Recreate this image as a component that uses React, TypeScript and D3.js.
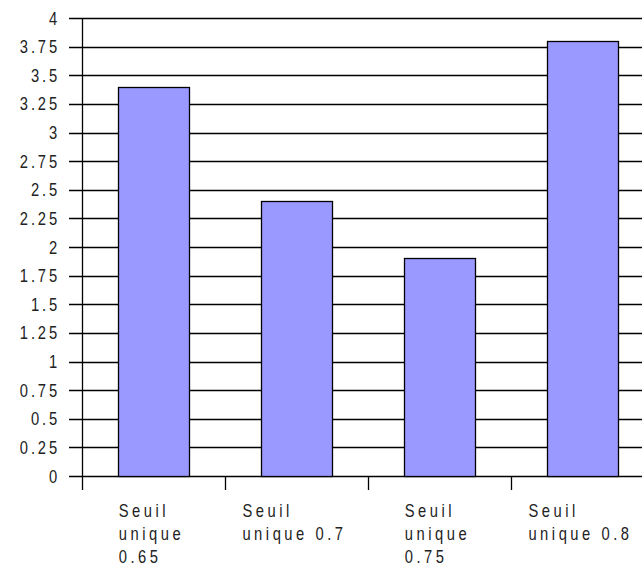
import React, { useEffect, useRef } from "react";
import * as d3 from "d3";

const WIDTH = 642;
const HEIGHT = 566;
const MARGIN = { top: 18, left: 82, bottom: 90 };
const STEP = 143;

const categories = ["Seuil unique 0.65", "Seuil unique 0.7", "Seuil unique 0.75", "Seuil unique 0.8"];
const categoryLines = [
  ["Seuil", "unique", "0.65"],
  ["Seuil", "unique 0.7"],
  ["Seuil", "unique", "0.75"],
  ["Seuil", "unique 0.8"],
];
const values = [3.4, 2.4, 1.9, 3.8];
const yTicks = [0, 0.25, 0.5, 0.75, 1, 1.25, 1.5, 1.75, 2, 2.25, 2.5, 2.75, 3, 3.25, 3.5, 3.75, 4];

const FONT = "'Liberation Sans', Arial, sans-serif";
const SX = 0.82; // the original font is narrow and tall

export default function App() {
  const ref = useRef<SVGSVGElement>(null);

  useEffect(() => {
    const svg = d3.select(ref.current);
    svg.selectAll("*").remove();

    const y0 = HEIGHT - MARGIN.bottom;
    const x = d3
      .scaleBand()
      .domain(categories)
      .range([MARGIN.left, MARGIN.left + STEP * categories.length])
      .paddingInner(0.5)
      .paddingOuter(0.25);
    const y = d3.scaleLinear().domain([0, 4]).range([y0, MARGIN.top]);

    // horizontal gridlines with the left tick stub
    svg
      .append("g")
      .selectAll("line")
      .data(yTicks)
      .join("line")
      .attr("x1", MARGIN.left - 13)
      .attr("x2", WIDTH)
      .attr("y1", (d) => Math.round(y(d)) + 0.5)
      .attr("y2", (d) => Math.round(y(d)) + 0.5)
      .attr("stroke", "#000")
      .attr("stroke-width", 1.3);

    svg
      .append("g")
      .selectAll("text")
      .data(yTicks)
      .join("text")
      .attr("transform", (d) => `translate(60,${y(d) + 6.5}) scale(${SX},1)`)
      .attr("text-anchor", "end")
      .attr("font-family", FONT)
      .attr("font-size", 18)
      .attr("letter-spacing", 3.5)
      .attr("fill", "#222")
      .text((d) => String(d));

    // bars
    svg
      .append("g")
      .selectAll("rect")
      .data(values)
      .join("rect")
      .attr("x", (d, i) => Math.round(x(categories[i]) as number) + 0.5)
      .attr("width", Math.round(x.bandwidth()) - 1)
      .attr("y", (d) => Math.round(y(d)) + 0.5)
      .attr("height", (d) => Math.round(y0) - Math.round(y(d)))
      .attr("fill", "#9999ff")
      .attr("stroke", "#000")
      .attr("stroke-width", 1.3);

    // axes lines
    svg
      .append("line")
      .attr("x1", MARGIN.left + 0.5)
      .attr("x2", MARGIN.left + 0.5)
      .attr("y1", MARGIN.top)
      .attr("y2", y0 + 14)
      .attr("stroke", "#000")
      .attr("stroke-width", 1.3);

    const bounds = d3.range(1, categories.length).map((i) => MARGIN.left + i * STEP);
    svg
      .append("g")
      .selectAll("line")
      .data(bounds)
      .join("line")
      .attr("x1", (d) => d + 0.5)
      .attr("x2", (d) => d + 0.5)
      .attr("y1", y0)
      .attr("y2", y0 + 14)
      .attr("stroke", "#000")
      .attr("stroke-width", 1.3);

    // category labels, left aligned block centred in band
    categoryLines.forEach((lines, i) => {
      const cx = (x(categories[i]) as number) + x.bandwidth() / 2;
      const g = svg.append("g");
      const texts = g
        .selectAll("text")
        .data(lines)
        .join("text")
        .attr("font-family", FONT)
        .attr("font-size", 18)
        .attr("letter-spacing", 4.3)
        .attr("fill", "#222")
        .text((d) => d);
      let maxW = 0;
      texts.each(function () {
        maxW = Math.max(maxW, (this as SVGTextElement).getComputedTextLength() * SX);
      });
      const left = cx - maxW / 2 - 2;
      texts.attr("transform", (d, j) => `translate(${left},${517 + j * 23}) scale(${SX},1)`);
    });
  }, []);

  return (
    <svg
      ref={ref}
      width={WIDTH}
      height={HEIGHT}
      style={{ position: "absolute", left: 0, top: 0, background: "#fff" }}
    />
  );
}
